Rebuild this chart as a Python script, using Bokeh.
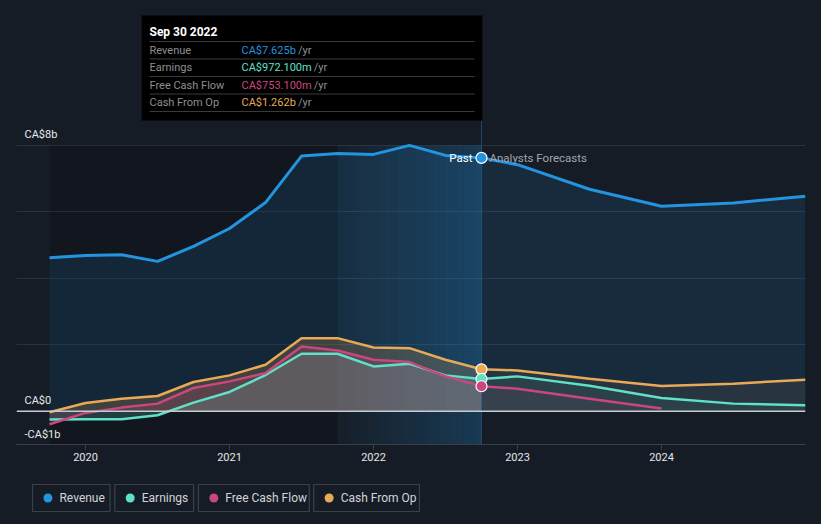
from bokeh.plotting import figure
from bokeh.models import Range1d, FixedTicker, Span, GlobalInlineStyleSheet
from bokeh.layouts import column
from bokeh.core.properties import value
from bokeh.embed import file_html
from bokeh.resources import INLINE

# ---------------- data (CA$ billions, decimal years) ----------------
periods_past = [2019.75, 2020.0, 2020.25, 2020.5, 2020.75, 2021.0, 2021.25,
                2021.5, 2021.75, 2022.0, 2022.25, 2022.5, 2022.75]
revenue_past = [4.62, 4.69, 4.71, 4.51, 4.96, 5.50, 6.28, 7.68, 7.76, 7.73, 8.00, 7.70, 7.625]
earnings_past = [-0.25, -0.24, -0.24, -0.12, 0.26, 0.58, 1.09, 1.73, 1.73, 1.35, 1.43, 1.08, 0.9721]
fcf_past = [-0.39, -0.05, 0.11, 0.23, 0.70, 0.90, 1.15, 1.95, 1.83, 1.55, 1.48, 1.05, 0.7531]
cfo_past = [-0.03, 0.25, 0.38, 0.46, 0.88, 1.08, 1.40, 2.20, 2.20, 1.92, 1.90, 1.55, 1.262]

periods_fc = [2023.0, 2023.5, 2024.0, 2024.5, 2025.0]
revenue_fc = [7.42, 6.68, 6.17, 6.27, 6.47]
earnings_fc = [1.05, 0.77, 0.40, 0.23, 0.18]
cfo_fc = [1.23, 0.98, 0.76, 0.83, 0.95]
periods_fc_fcf = [2023.0, 2023.5, 2024.0]
fcf_fc = [0.68, 0.38, 0.08]

tick_years = [2020, 2021, 2022, 2023, 2024]
tick_labels = ["2020", "2021", "2022", "2023", "2024"]
ylabel_values = [8, 0, -1]
ylabel_texts = ["CA$8b", "CA$0", "-CA$1b"]
grid_values = [2, 4, 6, 8]

series_names = ["Revenue", "Earnings", "Free Cash Flow", "Cash From Op"]
series_colors = ["#2394df", "#5fe0c7", "#c9477f", "#e8aa57"]
tooltip_date = "Sep 30 2022"
past_label = "Past"
forecast_label = "Analysts Forecasts"

# ---------------- styling / layout ----------------
BG = "#161c25"
FONT = "Roboto"
X0, X1 = 2019.5208, 2025.0
Y0, Y1 = -1.0, 12.12
FW, FH = 789, 436          # frame size in px
FL, FT = 16, 8             # frame left/top on page


def px(xpage):
    return X0 + (xpage - FL) * (X1 - X0) / FW


def py(ypage):
    return Y1 - (ypage - FT) * (Y1 - Y0) / FH


p = figure(width=821, height=480, x_range=Range1d(X0, X1), y_range=Range1d(Y0, Y1),
           output_backend="svg", toolbar_location=None, y_axis_location=None,
           min_border_left=16, min_border_right=16, min_border_top=8, min_border_bottom=36,
           background_fill_color=BG, border_fill_color=BG, outline_line_color=None)

p.xgrid.visible = False
p.ygrid.ticker = FixedTicker(ticks=grid_values)
p.ygrid.grid_line_color = "#2a313c"
p.ygrid.grid_line_width = 1

ax = p.xaxis[0]
ax.ticker = FixedTicker(ticks=tick_years)
ax.major_label_overrides = {y: l for y, l in zip(tick_years, tick_labels)}
ax.axis_line_color = "#3a404a"
ax.major_tick_line_color = "#3a404a"
ax.major_tick_out = 5
ax.major_tick_in = 0
ax.minor_tick_line_color = None
ax.major_label_text_color = "#e6e6e6"
ax.major_label_text_font = FONT
ax.major_label_text_font_size = "11px"
ax.major_label_standoff = 3

past_end = periods_past[-1]
band_start = periods_past[-5]

# darker past region and highlighted last-year band
p.quad(left=periods_past[0], right=band_start, bottom=Y0, top=8,
       fill_color="black", fill_alpha=0.16, line_color=None)
N = 24
w = (past_end - band_start) / N
for i in range(N):
    p.quad(left=band_start + i * w, right=band_start + (i + 1) * w, bottom=Y0, top=8,
           fill_color="#2394df", fill_alpha=0.03 + 0.22 * i / (N - 1), line_color=None)

# area fills
all_periods = periods_past + periods_fc
revenue_all = revenue_past + revenue_fc
earnings_all = earnings_past + earnings_fc
fcf_all = fcf_past + fcf_fc
cfo_all = cfo_past + cfo_fc
fcf_periods = periods_past + periods_fc_fcf

p.varea(x=all_periods, y1=[0] * len(all_periods), y2=revenue_all,
        fill_color=series_colors[0], fill_alpha=0.13)

for per_p, vals_p, per_f, vals_f, col in [
        (periods_past, cfo_past, periods_fc, cfo_fc, series_colors[3]),
        (periods_past, earnings_past, periods_fc, earnings_fc, series_colors[1]),
        (periods_past, fcf_past, periods_fc_fcf, fcf_fc, series_colors[2])]:
    p.varea(x=per_p, y1=[0] * len(per_p), y2=vals_p, fill_color=col, fill_alpha=0.2)
    xf = [per_p[-1]] + per_f
    yf = [vals_p[-1]] + vals_f
    p.varea(x=xf, y1=[0] * len(xf), y2=yf, fill_color=col, fill_alpha=0.08)

# zero line
p.add_layout(Span(location=0, dimension="width", line_color="#c8ccd2", line_width=1.5))

# lines
p.line(all_periods, revenue_all, line_color=series_colors[0], line_width=3)
p.line(all_periods, earnings_all, line_color=series_colors[1], line_width=2.5)
p.line(fcf_periods, fcf_all, line_color=series_colors[2], line_width=2.5)
p.line(all_periods, cfo_all, line_color=series_colors[3], line_width=2.5)

# past / forecast divider
p.segment(x0=past_end, y0=Y0, x1=past_end, y1=py(120), line_color="#2a6594",
          line_alpha=0.55, line_width=1)

# markers at the divider
for vals, col in [(cfo_past, series_colors[3]), (earnings_past, series_colors[1]),
                  (fcf_past, series_colors[2]), (revenue_past, series_colors[0])]:
    p.scatter(x=[past_end], y=[vals[-1]], size=11, fill_color=col,
              line_color="white", line_width=1.2)

p.text(x=[past_end], y=[revenue_past[-1]], text=[past_label], text_align="right",
       text_baseline="middle", x_offset=-9, text_color="#ffffff",
       text_font=value(FONT), text_font_size="11.5px")
p.text(x=[past_end], y=[revenue_past[-1]], text=[forecast_label], text_align="left",
       text_baseline="middle", x_offset=8, text_color="#a0a6ad",
       text_font=value(FONT), text_font_size="11.5px")

# y labels (inside plot, above grid lines)
p.text(x=[X0] * len(ylabel_values), y=ylabel_values, text=ylabel_texts,
       x_offset=8, y_offset=-4, text_baseline="bottom", text_align="left",
       text_color="#e8e8e8", text_font=value(FONT), text_font_size="11px")

# ---------------- tooltip box ----------------
p.quad(left=px(141), right=px(482), top=py(15), bottom=py(120),
       fill_color="#000000", line_color=None, level="overlay")
sep_ys = [41, 58.5, 76, 93.5, 111]
p.segment(x0=[px(149)] * len(sep_ys), x1=[px(474)] * len(sep_ys),
          y0=[py(s) for s in sep_ys], y1=[py(s) for s in sep_ys],
          line_color="#3a3a3a", line_width=1, level="overlay")
p.text(x=[px(149)], y=[py(31)], text=[tooltip_date], text_baseline="middle",
       text_color="#ffffff", text_font=value(FONT), text_font_size="12px",
       text_font_style="bold", level="overlay")


def fmt(v):
    if abs(v) >= 1:
        return f"CA${v:.3f}b"
    return f"CA${v * 1000:.3f}m"


CHAR_W = {"C": 7.1, "A": 7.3, "$": 6.2, ".": 2.9, "b": 6.2, "m": 9.6}


def text_w(s):
    return sum(CHAR_W.get(c, 6.2) for c in s)


last_vals = [revenue_past[-1], earnings_past[-1], fcf_past[-1], cfo_past[-1]]
row_ys = [49.5, 67, 84.5, 101.5]
for name, v, col, ry in zip(series_names, last_vals, series_colors, row_ys):
    s = fmt(v)
    p.text(x=[px(149)], y=[py(ry)], text=[name], text_baseline="middle",
           text_color="#8e8e8e", text_font=value(FONT), text_font_size="11px", level="overlay")
    p.text(x=[px(241)], y=[py(ry)], text=[s], text_baseline="middle",
           text_color=col, text_font=value(FONT), text_font_size="11px", level="overlay")
    p.text(x=[px(241 + text_w(s) + 2)], y=[py(ry)], text=["/yr"], text_baseline="middle",
           text_color="#8e8e8e", text_font=value(FONT), text_font_size="11px", level="overlay")

# ---------------- legend strip ----------------
lg = figure(width=821, height=44, x_range=Range1d(0, 821), y_range=Range1d(44, 0),
            output_backend="svg", toolbar_location=None, x_axis_location=None,
            y_axis_location=None, min_border=0, background_fill_color=BG,
            border_fill_color=BG, outline_line_color=None)
lg.grid.visible = False
box_lefts = [16.7, 102.3, 189.3, 309.3]
box_rights = [97.3, 184.3, 304.7, 419.3]
lg.quad(left=box_lefts, right=box_rights, top=[4] * 4, bottom=[31] * 4,
        fill_color=None, line_color="#3b414b", line_width=1.2)
lg.scatter(x=[l + 16 for l in box_lefts], y=[17.5] * 4, size=9,
           fill_color=series_colors, line_color=None)
lg.text(x=[l + 28 for l in box_lefts], y=[17.5] * 4, text=series_names,
        text_baseline="middle", text_color="#d2d4d8", text_font=value(FONT),
        text_font_size="12px")

layout = column(p, lg, spacing=0,
                stylesheets=[GlobalInlineStyleSheet(css="html, body { background-color: #161c25; }")])

open("out.html", "w").write(file_html(layout, INLINE))
